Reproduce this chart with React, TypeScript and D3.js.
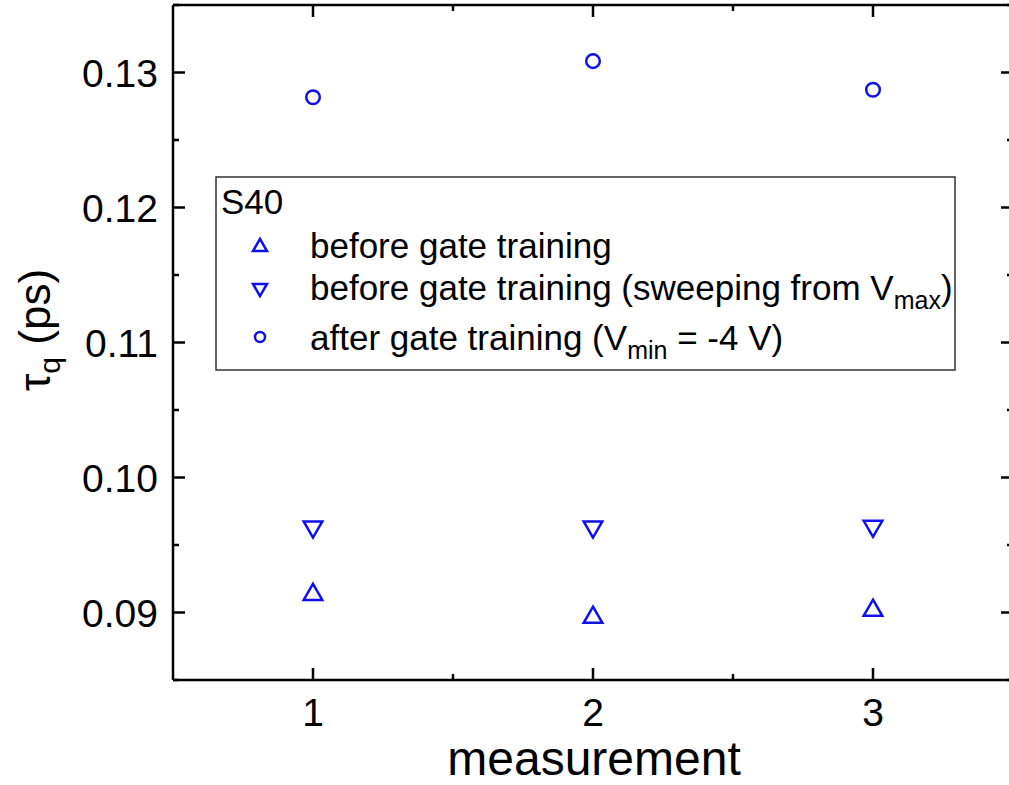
import React from "react";
import * as d3 from "d3";

const measurements = [1, 2, 3];
const beforeTraining = [0.09148, 0.08978, 0.0903];
const beforeSweepVmax = [0.0962, 0.0962, 0.09625];
const afterTraining = [0.12817, 0.13084, 0.12872];

const xMajorTicks = [1, 2, 3];
const xMinorTicks = [1.5, 2.5];
const yMajorTicks = [0.09, 0.1, 0.11, 0.12, 0.13];
const yMinorTicks = [0.085, 0.095, 0.105, 0.115, 0.125, 0.135];
const yTickLabels = ["0.09", "0.10", "0.11", "0.12", "0.13"];

const W = 1009;
const H = 785;
const left = 173;
const right = 1013;
const top = 5;
const bottom = 680;
const BLUE = "#1010ee";
const FONT = "Liberation Sans, Arial, sans-serif";

const x = d3.scaleLinear().domain([0.5, 3.5]).range([left, right]);
const y = d3.scaleLinear().domain([0.085, 0.135]).range([bottom, top]);

const tri = d3.symbol().type(d3.symbolTriangle).size(150);

function UpTri({ cx, cy, s = 1 }: { cx: number; cy: number; s?: number }) {
  return (
    <path
      d={tri() as string}
      transform={`translate(${cx},${cy}) scale(${s})`}
      fill="none"
      stroke={BLUE}
      strokeWidth={2.5 / s}
    />
  );
}
function DownTri({ cx, cy, s = 1 }: { cx: number; cy: number; s?: number }) {
  return (
    <path
      d={tri() as string}
      transform={`translate(${cx},${cy}) rotate(180) scale(${s})`}
      fill="none"
      stroke={BLUE}
      strokeWidth={2.5 / s}
    />
  );
}
function Circ({ cx, cy, r = 6.8 }: { cx: number; cy: number; r?: number }) {
  return <circle cx={cx} cy={cy} r={r} fill="none" stroke={BLUE} strokeWidth={2.5} />;
}

export default function App() {
  const majorLen = 12;
  const minorLen = 6;
  return (
    <div style={{ position: "fixed", left: 0, top: 0 }}>
      <svg width={W} height={H} style={{ display: "block", background: "#fff" }}>
        {/* frame */}
        <g stroke="#000" strokeWidth={2.5} fill="none">
          <line x1={left} x2={right} y1={bottom} y2={bottom} />
          <line x1={left} x2={right} y1={top} y2={top} />
          <line x1={left} x2={left} y1={top} y2={bottom} />
          <line x1={right} x2={right} y1={top} y2={bottom} />
        </g>
        {/* ticks */}
        <g stroke="#000" strokeWidth={2.5}>
          {xMajorTicks.map((t) => (
            <g key={"xm" + t}>
              <line x1={x(t)} x2={x(t)} y1={bottom} y2={bottom - majorLen} />
              <line x1={x(t)} x2={x(t)} y1={top} y2={top + majorLen} />
            </g>
          ))}
          {xMinorTicks.map((t) => (
            <g key={"xn" + t}>
              <line x1={x(t)} x2={x(t)} y1={bottom} y2={bottom - minorLen} />
              <line x1={x(t)} x2={x(t)} y1={top} y2={top + minorLen} />
            </g>
          ))}
          {yMajorTicks.map((t) => (
            <g key={"ym" + t}>
              <line x1={left} x2={left + majorLen} y1={y(t)} y2={y(t)} />
              <line x1={right} x2={right - majorLen} y1={y(t)} y2={y(t)} />
            </g>
          ))}
          {yMinorTicks.map((t) => (
            <g key={"yn" + t}>
              <line x1={left} x2={left + minorLen} y1={y(t)} y2={y(t)} />
              <line x1={right} x2={right - minorLen} y1={y(t)} y2={y(t)} />
            </g>
          ))}
        </g>
        {/* tick labels */}
        <g fontFamily={FONT} fontSize={39} fill="#000">
          {xMajorTicks.map((t) => (
            <text key={"xl" + t} x={x(t)} y={726} textAnchor="middle">
              {t}
            </text>
          ))}
          {yMajorTicks.map((t, i) => (
            <text key={"yl" + t} x={158} y={y(t) + 14} textAnchor="end">
              {yTickLabels[i]}
            </text>
          ))}
        </g>
        {/* axis titles */}
        <text x={594} y={775} textAnchor="middle" fontFamily={FONT} fontSize={48}>
          measurement
        </text>
        <text
          transform="translate(50,330) rotate(-90)"
          textAnchor="middle"
          fontFamily={FONT}
          fontSize={44}
        >
          τ<tspan fontSize={30} dy={10}>q</tspan>
          <tspan dy={-10}> (ps)</tspan>
        </text>
        {/* data */}
        {measurements.map((m, i) => (
          <g key={"d" + m}>
            <UpTri cx={x(m)} cy={y(beforeTraining[i]) + 2} />
            <DownTri cx={x(m)} cy={y(beforeSweepVmax[i]) - 2} />
            <Circ cx={x(m)} cy={y(afterTraining[i])} />
          </g>
        ))}
        {/* legend */}
        <g fontFamily={FONT} fontSize={35} fill="#000">
          <rect x={216} y={177} width={739} height={193} fill="#fff" stroke="#333" strokeWidth={1.5} />
          <text x={221} y={214}>S40</text>
          <UpTri cx={260} cy={247} s={0.75} />
          <text x={310} y={258}>before gate training</text>
          <DownTri cx={260} cy={288} s={0.75} />
          <text x={310} y={300}>
            before gate training (sweeping from V<tspan fontSize={25} dy={9}>max</tspan>
            <tspan dy={-9}>)</tspan>
          </text>
          <Circ cx={260} cy={337} r={5} />
          <text x={310} y={350}>
            after gate training (V<tspan fontSize={25} dy={9}>min</tspan>
            <tspan dy={-9}> = -4 V)</tspan>
          </text>
        </g>
      </svg>
    </div>
  );
}
